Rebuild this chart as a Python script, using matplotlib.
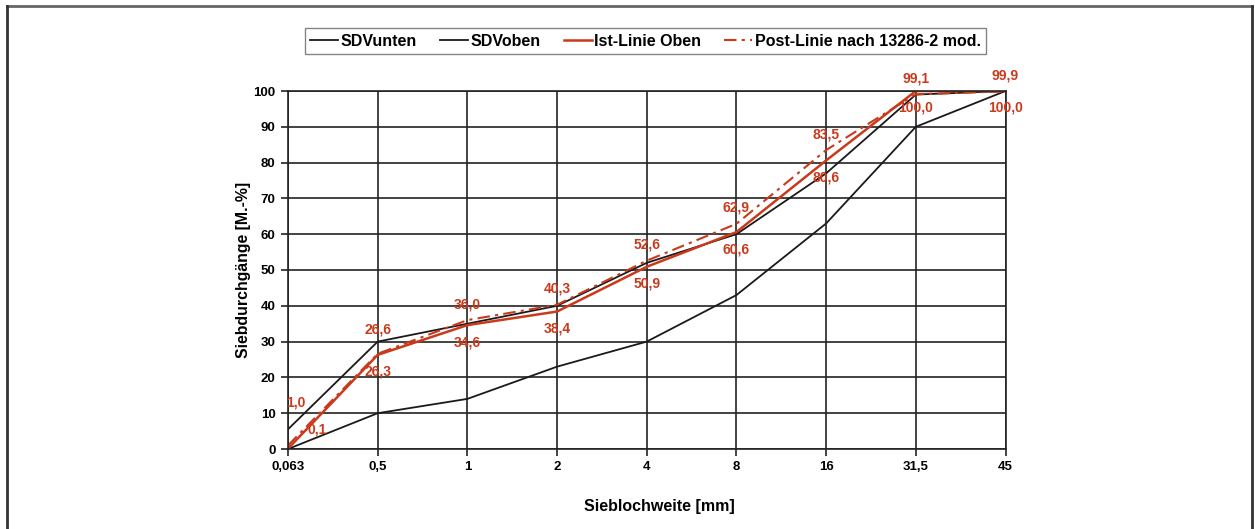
import numpy as np
import matplotlib
matplotlib.use('Agg')
import matplotlib.pyplot as plt
from matplotlib.lines import Line2D

plt.rcParams['font.family'] = ['Liberation Sans', 'DejaVu Sans']
plt.rcParams['font.weight'] = 'bold'

# Daten
sieb = ['0,063', '0,5', '1', '2', '4', '8', '16', '31,5', '45']
sdv_unten = [0, 10, 14, 23, 30, 43, 63, 90, 100]
sdv_oben = [5.5, 30, 35, 40, 52, 60, 77, 99, 100]
ist_oben = [0.1, 26.3, 34.6, 38.4, 50.9, 60.6, 80.6, 100.0, 100.0]
post_linie = [1.0, 26.6, 36.0, 40.3, 52.6, 62.9, 83.5, 99.1, 99.9]
yticks = [0, 10, 20, 30, 40, 50, 60, 70, 80, 90, 100]

rot = '#c93a1c'
schwarz = '#1a1a1a'

fig = plt.figure(figsize=(12.55, 5.29), dpi=100)
ax = fig.add_axes([288 / 1255, 80 / 529, 717.5 / 1255, 358 / 529])

x = np.arange(len(sieb))
ax.plot(x, sdv_unten, color=schwarz, lw=1.3, label='SDVunten')
ax.plot(x, sdv_oben, color=schwarz, lw=1.3, label='SDVoben')
ax.plot(x, ist_oben, color=rot, lw=1.8, label='Ist-Linie Oben')
ax.plot(x, post_linie, color=rot, lw=1.5, ls=(0, (6, 2.5, 1.5, 2.5)),
        label='Post-Linie nach 13286-2 mod.')

ax.set_xlim(0, len(sieb) - 1)
ax.set_ylim(0, 100)
ax.set_xticks(x)
ax.set_xticklabels(sieb)
ax.set_yticks(yticks)
ax.grid(True, color='#222222', lw=1.2)
for s in ax.spines.values():
    s.set_color('#222222')
    s.set_linewidth(1.2)
ax.tick_params(length=5, width=1.2, color='#222222', labelsize=9.5, pad=4)
for lab in ax.get_xticklabels() + ax.get_yticklabels():
    lab.set_fontweight('bold')

# Beschriftungen der roten Linien
def beschriften(werte, dy_default, sonder):
    for i, v in enumerate(werte):
        dx, dy = sonder.get(i, (0, dy_default))
        ax.annotate(f'{v:.1f}'.replace('.', ','), (x[i], v), xytext=(dx, dy),
                    textcoords='offset pixels', ha='center', va='center',
                    color=rot, fontsize=10, fontweight='bold',
                    annotation_clip=False)

beschriften(ist_oben, -17, {0: (29, 19)})
beschriften(post_linie, 16, {0: (8, 43), 1: (0, 24)})

ax.set_ylabel('Siebdurchgänge [M.-%]', fontsize=11.4, fontweight='bold', labelpad=2)
fig.text(659 / 1255, 1 - 507 / 529, 'Sieblochweite [mm]', ha='center', va='center',
         fontsize=11.5, fontweight='bold')

leg = fig.legend(loc='center', bbox_to_anchor=(645.5 / 1255, 1 - 41 / 529), ncol=4,
                 fontsize=11.5, frameon=True, fancybox=False, edgecolor='#666666',
                 handlelength=1.75, handletextpad=0.15, columnspacing=1.45,
                 borderpad=0.35, borderaxespad=0)
leg.get_frame().set_linewidth(1.0)
for t in leg.get_texts():
    t.set_fontweight('bold')

# Rahmen
fig.add_artist(Line2D([7 / 1255, 1252 / 1255], [1 - 6 / 529, 1 - 6 / 529],
                      transform=fig.transFigure, color='#666666', lw=2))
fig.add_artist(Line2D([7 / 1255, 7 / 1255], [0, 1 - 6 / 529],
                      transform=fig.transFigure, color='#333333', lw=2))
fig.add_artist(Line2D([1252 / 1255, 1252 / 1255], [0, 1 - 6 / 529],
                      transform=fig.transFigure, color='#333333', lw=2))

fig.savefig('out.png', dpi=100)
